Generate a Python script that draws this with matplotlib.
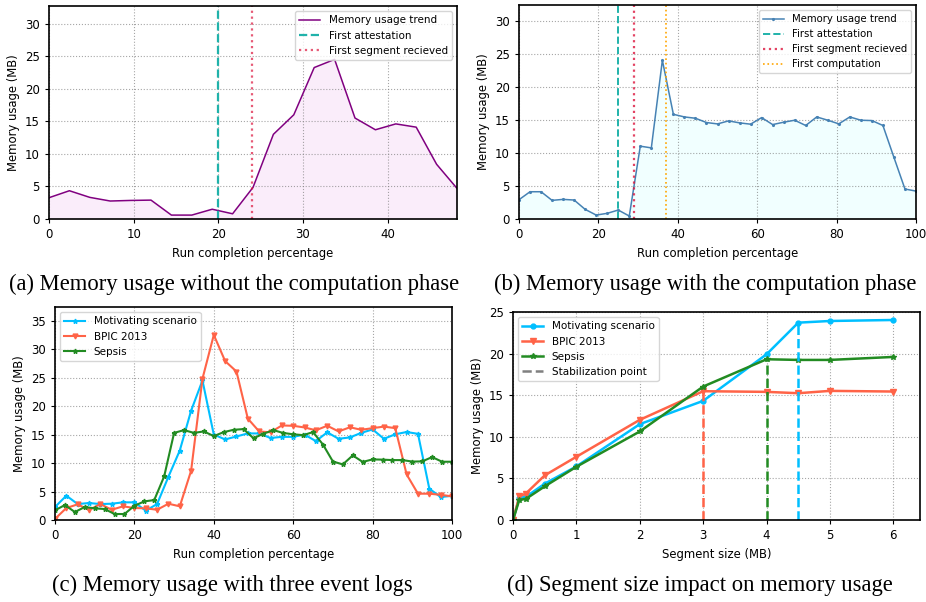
import matplotlib
matplotlib.use('Agg')
import matplotlib.pyplot as plt
import numpy as np

# (a) memory without computation phase
a_x = np.arange(21) * 2.41
a_mem = [3.27, 4.34, 3.32, 2.76, 2.85, 2.9, 0.6, 0.6, 1.5, 0.8, 4.85,
         13.0, 16.0, 23.25, 24.5, 15.5, 13.7, 14.6, 14.1, 8.4, 4.7]
a_attest = 20
a_segment = 24

# (b) memory with computation phase
b_x = np.arange(37) * 100 / 36
b_mem = [2.93, 4.14, 4.14, 2.83, 2.98, 2.88, 1.46, 0.6, 0.86, 1.36, 0.45,
         11.06, 10.8, 24.1, 15.9, 15.5, 15.3, 14.65, 14.44, 14.9, 14.6,
         14.4, 15.4, 14.34, 14.7, 15.0, 14.2, 15.5, 15.0, 14.45, 15.5,
         15.0, 14.95, 14.2, 9.35, 4.55, 4.24]
b_attest = 25
b_segment = 29
b_compute = 37

# (c) three event logs
c_x = np.arange(36) * 100 / 35
c_motiv = [2.28, 4.27, 2.8, 2.98, 2.8, 2.86, 3.1, 3.1, 1.64, 2.8, 7.6, 12.2,
           19.2, 24.5, 15.0, 14.15, 14.67, 15.2, 15.2, 14.4, 14.6, 14.6, 15.0,
           13.85, 15.4, 14.26, 14.5, 15.3, 15.9, 14.26, 15.05, 15.45, 15.13,
           5.5, 4.03, 4.25]
c_bpic = [0.2, 2.1, 2.75, 1.75, 2.8, 1.8, 2.4, 2.1, 2.05, 1.8, 2.86, 2.4,
          8.65, 24.8, 32.5, 27.9, 26.07, 17.8, 15.55, 15.4, 16.6, 16.54,
          16.25, 15.75, 16.55, 15.55, 16.28, 15.84, 16.13, 16.4, 16.13, 8.0,
          4.62, 4.62, 4.42, 4.15]
c_sx = np.arange(41) * 2.5
c_sepsis = [1.7, 2.63, 1.4, 2.28, 2.05, 1.93, 1.05, 1.05, 2.5, 3.27, 3.5,
            7.66, 15.3, 15.78, 15.3, 15.55, 14.73, 15.43, 15.84, 15.96, 14.35,
            15.15, 15.78, 15.28, 15.05, 14.9, 15.43, 13.25, 10.27, 9.76, 11.34,
            10.2, 10.64, 10.6, 10.52, 10.52, 10.26, 10.29, 11.05, 10.23, 10.23]

# (d) segment size impact
d_x = [0, 0.1, 0.2, 0.5, 1, 2, 3, 4, 4.5, 5, 6]
d_motiv = [0, 2.68, 2.76, 4.36, 6.44, 11.52, 14.32, 19.92, 23.72, 23.92, 24.04]
d_bpic = [0, 2.84, 3.16, 5.36, 7.6, 12.04, 15.48, 15.4, 15.24, 15.52, 15.44]
d_sepsis = [0, 2.44, 2.52, 4.04, 6.4, 10.64, 16.04, 19.32, 19.24, 19.24, 19.6]
stab_points = {'deepskyblue': 4.5, 'tomato': 3, 'forestgreen': 4}

captions = ['(a) Memory usage without the computation phase',
            '(b) Memory usage with the computation phase',
            '(c) Memory usage with three event logs',
            '(d) Segment size impact on memory usage']

plt.rcParams['font.size'] = 8
fig = plt.figure(figsize=(9.26, 6.02), dpi=100)
W, H = 926, 602


def add_ax(l, r, t, b):
    return fig.add_axes([l / W, 1 - b / H, (r - l) / W, (b - t) / H])


def style(ax):
    ax.grid(True, linestyle=':', color='gray', alpha=0.7)
    for s in ax.spines.values():
        s.set_linewidth(1.2)
    ax.tick_params(labelsize=8.5, length=3)


ax1 = add_ax(49, 457, 6, 219)
ax1.plot(a_x, a_mem, color='purple', lw=1.1, label='Memory usage trend')
ax1.fill_between(a_x, a_mem, color='orchid', alpha=0.12, lw=0)
ax1.axvline(a_attest, color='lightseagreen', ls='--', lw=1.6, label='First attestation')
ax1.axvline(a_segment, color='crimson', ls=':', lw=1.6, alpha=0.7, label='First segment recieved')
ax1.set_xlim(0, a_x[-1])
ax1.set_ylim(0, 32.7)
ax1.set_xlabel('Run completion percentage', fontsize=8.4)
ax1.set_ylabel('Memory usage (MB)', fontsize=8.4)
ax1.legend(loc='upper right', fontsize=7.5)
style(ax1)

ax2 = add_ax(519, 916, 5, 219)
ax2.plot(b_x, b_mem, color='steelblue', lw=1.1, marker='.', ms=2.5, label='Memory usage trend')
ax2.fill_between(b_x, b_mem, color='azure', alpha=0.9, lw=0)
ax2.axvline(b_attest, color='lightseagreen', ls='--', lw=1.4, label='First attestation')
ax2.axvline(b_segment, color='crimson', ls=':', lw=1.6, alpha=0.8, label='First segment recieved')
ax2.axvline(b_compute, color='orange', ls=':', lw=1.2, label='First computation')
ax2.set_xlim(0, 100)
ax2.set_ylim(0, 32.5)
ax2.set_xlabel('Run completion percentage', fontsize=8.4)
ax2.set_ylabel('Memory usage (MB)', fontsize=8.4)
ax2.legend(loc='upper right', fontsize=7.3)
style(ax2)

ax3 = add_ax(55, 452, 307, 520)
ax3.plot(c_x, c_motiv, color='deepskyblue', lw=1.5, marker='*', ms=3.5, label='Motivating scenario')
ax3.plot(c_x, c_bpic, color='tomato', lw=1.5, marker='v', ms=3.5, label='BPIC 2013')
ax3.plot(c_sx, c_sepsis, color='forestgreen', lw=1.5, marker='*', ms=3.5, label='Sepsis')
ax3.set_xlim(0, 100)
ax3.set_ylim(0, 37.4)
ax3.set_xlabel('Run completion percentage', fontsize=8.4)
ax3.set_ylabel('Memory usage (MB)', fontsize=8.4)
ax3.legend(loc='upper left', fontsize=7.5)
style(ax3)

ax4 = add_ax(513, 920, 312, 520)
ax4.plot(d_x, d_motiv, color='deepskyblue', lw=1.8, marker='o', ms=3.5, label='Motivating scenario')
ax4.plot(d_x, d_bpic, color='tomato', lw=1.8, marker='v', ms=4, label='BPIC 2013')
ax4.plot(d_x, d_sepsis, color='forestgreen', lw=1.8, marker='*', ms=4, label='Sepsis')
for col, xs, ys in [('tomato', d_x, d_bpic), ('forestgreen', d_x, d_sepsis),
                    ('deepskyblue', d_x, d_motiv)]:
    xv = stab_points[col]
    ax4.vlines(xv, 0, ys[xs.index(xv)], colors=col, linestyles='--', lw=1.8)
ax4.plot([], [], color='gray', ls='--', lw=1.8, label='Stabilization point')
ax4.set_xlim(0, 6.42)
ax4.set_ylim(0, 25)
ax4.set_xlabel('Segment size (MB)', fontsize=8.4)
ax4.set_ylabel('Memory usage (MB)', fontsize=8.4)
ax4.legend(loc='upper left', fontsize=7.5)
style(ax4)

cap_font = dict(family='Liberation Serif', fontsize=16.3, ha='center', va='center')
fig.text(234 / W, 1 - 284 / H, captions[0], **cap_font)
fig.text(705 / W, 1 - 284 / H, captions[1], **cap_font)
fig.text(232 / W, 1 - 585 / H, captions[2], **cap_font)
fig.text(700 / W, 1 - 585 / H, captions[3], **cap_font)

fig.savefig('out.png', dpi=100)
